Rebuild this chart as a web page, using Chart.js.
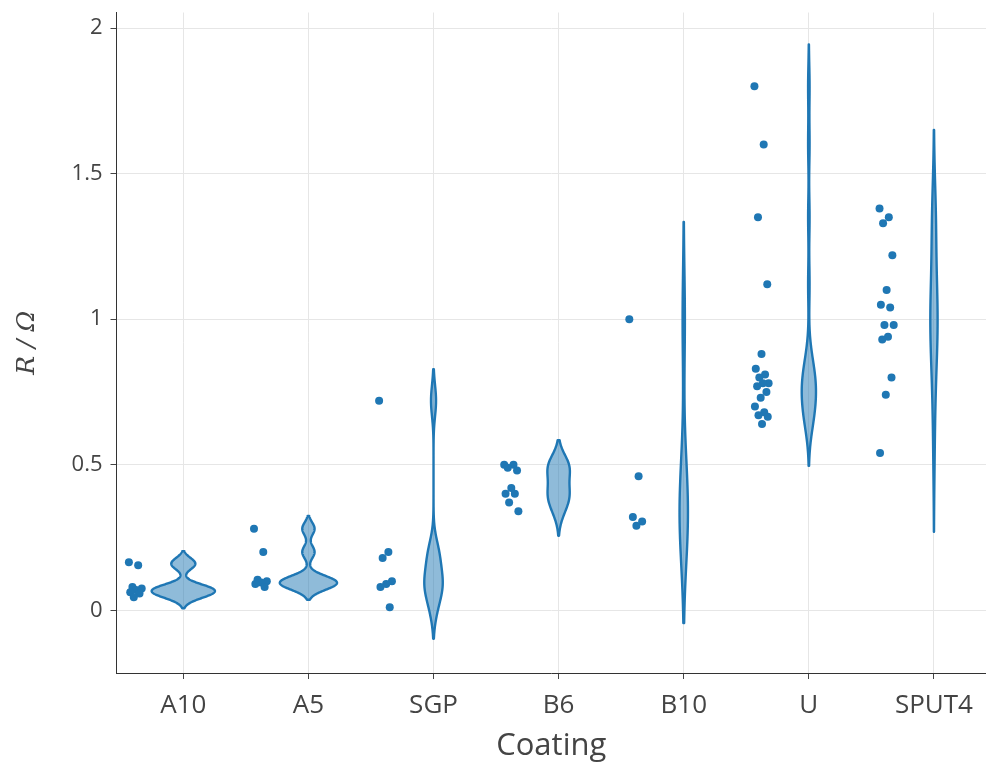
<!DOCTYPE html>
<html>
<head>
<meta charset="utf-8">
<script src="https://cdn.jsdelivr.net/npm/chart.js@4.4.1/dist/chart.umd.min.js"></script>
<style>
  html, body { margin: 0; padding: 0; background: #fff; }
  #wrap { width: 986px; height: 767px; }
</style>
</head>
<body>
<div id="wrap"><canvas id="violins"></canvas></div>
<script>
const coatings = ["A10", "A5", "SGP", "B6", "B10", "U", "SPUT4"];

// resistance per coating (Ohm)
const a10 = [0.165, 0.155, 0.08, 0.075, 0.07, 0.062, 0.058, 0.045];
const a5 = [0.28, 0.2, 0.105, 0.1, 0.095, 0.09, 0.08];
const sgp = [0.72, 0.2, 0.18, 0.1, 0.09, 0.08, 0.01];
const b6 = [0.5, 0.5, 0.49, 0.48, 0.42, 0.4, 0.4, 0.37, 0.34];
const b10 = [1.0, 0.46, 0.32, 0.305, 0.29];
const u = [1.8, 1.6, 1.35, 1.12, 0.88, 0.83, 0.81, 0.8, 0.78, 0.78, 0.77, 0.75, 0.73, 0.7, 0.68, 0.67, 0.665, 0.64];
const sput4 = [1.38, 1.35, 1.33, 1.22, 1.1, 1.05, 1.04, 0.98, 0.98, 0.94, 0.93, 0.8, 0.74, 0.54];

// kde bandwidth of each violin
const bandwidths = [0.019, 0.022, 0.054, 0.042, 0.167, 0.072, 0.135];
const yTicks = [0, 0.5, 1, 1.5, 2];

const groups = [a10, a5, sgp, b6, b10, u, sput4];
const blue = '#1f77b4';

function jitter(j) {
  return (((j * 0.6180339887) % 1) - 0.5) * 0.12;
}

function gauss(t) {
  return Math.exp(-0.5 * t * t) / Math.sqrt(2 * Math.PI);
}

function kde(vals, bw, y) {
  let s = 0;
  for (const v of vals) s += gauss((y - v) / bw);
  return s / (vals.length * bw);
}

const violinPlugin = {
  id: 'violins',
  beforeDatasetsDraw(chart) {
    const {ctx, scales: {x, y}} = chart;
    const curves = groups.map((vals, i) => {
      const bw = bandwidths[i];
      const lo = Math.min(...vals) - 2 * bw;
      const hi = Math.max(...vals) + 2 * bw;
      const pts = [];
      for (let k = 0; k <= 200; k++) {
        const yy = lo + (hi - lo) * k / 200;
        pts.push([yy, kde(vals, bw, yy)]);
      }
      return pts;
    });
    const peak = Math.max(...curves.flatMap(c => c.map(p => p[1])));
    const half = 0.253 / peak;

    ctx.save();
    curves.forEach((pts, i) => {
      ctx.beginPath();
      pts.forEach(([yy, d], k) => {
        const px = x.getPixelForValue(i + d * half);
        const py = y.getPixelForValue(yy);
        if (k) ctx.lineTo(px, py); else ctx.moveTo(px, py);
      });
      for (let k = pts.length - 1; k >= 0; k--) {
        const [yy, d] = pts[k];
        ctx.lineTo(x.getPixelForValue(i - d * half), y.getPixelForValue(yy));
      }
      ctx.closePath();
      ctx.fillStyle = 'rgba(31, 119, 180, 0.5)';
      ctx.fill();
      ctx.lineWidth = 2.4;
      ctx.lineJoin = 'round';
      ctx.strokeStyle = blue;
      ctx.stroke();
    });
    ctx.restore();
  }
};

const points = groups.flatMap((vals, i) =>
  vals.map((v, j) => ({x: i - 0.375 + jitter(j), y: v}))
);

new Chart(document.getElementById('violins').getContext('2d'), {
  type: 'scatter',
  data: {
    datasets: [{
      label: 'R',
      data: points,
      backgroundColor: blue,
      borderWidth: 0,
      pointRadius: 4,
      pointHoverRadius: 4
    }]
  },
  options: {
    responsive: true,
    maintainAspectRatio: false,
    animation: false,
    layout: {autoPadding: false, padding: {top: 12.5, right: 0, left: 0, bottom: 0}},
    plugins: {
      legend: {display: false},
      tooltip: {enabled: false}
    },
    scales: {
      x: {
        type: 'linear',
        min: -0.534,
        max: 6.416,
        bounds: 'data',
        afterBuildTicks: s => { s.ticks = coatings.map((c, i) => ({value: i})); },
        afterFit: s => { s.height = 94; s.paddingLeft = 0; s.paddingRight = 0; },
        ticks: {
          callback: v => coatings[v],
          font: {family: "'Open Sans'", size: 26},
          color: '#444',
          padding: 11,
          maxRotation: 0
        },
        grid: {color: '#e6e6e6', tickColor: '#444', tickLength: 6},
        border: {color: '#333', width: 1},
        title: {
          display: true,
          text: 'Coating',
          font: {family: "'Open Sans'", size: 31},
          color: '#444',
          padding: {top: 0, bottom: 2}
        }
      },
      y: {
        min: -0.2155,
        max: 2.0536,
        bounds: 'data',
        afterBuildTicks: s => { s.ticks = yTicks.map(v => ({value: v})); },
        afterFit: s => { s.width = 116.5; s.paddingTop = 0; s.paddingBottom = 0; },
        ticks: {
          callback: v => String(v),
          font: {family: "'Open Sans'", size: 22},
          color: '#444',
          padding: 8
        },
        grid: {color: '#e6e6e6', tickColor: '#444', tickLength: 6},
        border: {color: '#333', width: 1},
        title: {
          display: true,
          text: 'R / Ω',
          font: {family: "'DejaVu Serif'", size: 25, style: 'italic'},
          color: '#444',
          padding: {top: 12, bottom: 0}
        }
      }
    }
  },
  plugins: [violinPlugin]
});
</script>
</body>
</html>
